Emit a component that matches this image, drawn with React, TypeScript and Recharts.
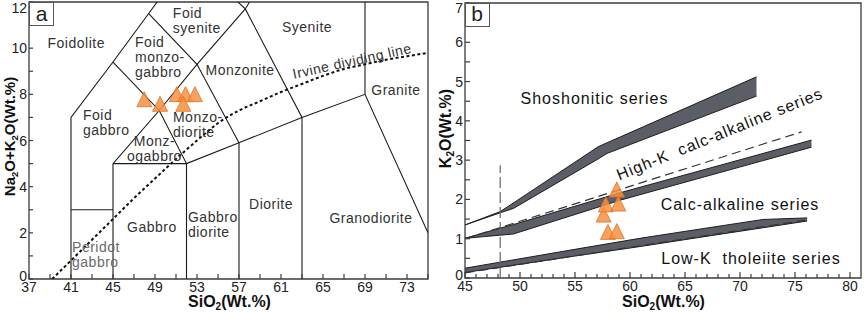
import React from "react";
import { ComposedChart, Line, Area, Scatter, XAxis, YAxis, ReferenceArea } from "recharts";

// ---------- panel a: TAS diagram ----------
const tasSio2Ticks = [37, 39, 41, 43, 45, 47, 49, 51, 53, 55, 57, 59, 61, 63, 65, 67, 69, 71, 73, 75];
const tasAlkaliTicks = [0, 1, 2, 3, 4, 5, 6, 7, 8, 9, 10, 11, 12];

// field boundaries (SiO2, Na2O+K2O)
const foidoliteEdge = [[41, 0], [41, 7], [45, 9.4], [48.4, 11.5], [49.2, 12]];
const peridotGabbroTop = [[41, 3], [45, 3]];
const gabbroLeftEdge = [[45, 0], [45, 5], [49.4, 7.3], [53, 9.3], [57.6, 11.7], [58, 12]];
const foidGabbroEdge = [[45, 9.4], [49.4, 7.3], [52, 5], [52, 0]];
const subalkalineTop = [[45, 5], [52, 5], [57, 5.9], [63, 7], [69, 8], [75, 2]];
const monzoditeEdge = [[48.4, 11.5], [53, 9.3], [57, 5.9], [57, 0]];
const monzoniteEdge = [[56.9, 12], [57.6, 11.7], [63, 7], [63, 0]];
const graniteEdge = [[69, 12], [69, 8]];
const tasBoundaries = [
  foidoliteEdge, peridotGabbroTop, gabbroLeftEdge, foidGabbroEdge,
  subalkalineTop, monzoditeEdge, monzoniteEdge, graniteEdge,
];

const irvineSio2 = [39.2, 41, 43, 45, 47, 49, 51, 53, 55, 57, 59, 61, 63, 65, 67, 69, 71, 73, 75];
const irvineAlkali = [0, 0.8, 1.7, 2.6, 3.5, 4.35, 5.2, 6.0, 6.75, 7.3, 7.7, 8.1, 8.45, 8.8, 9.1, 9.3, 9.5, 9.65, 9.8];

const tasSampleSio2 = [47.98, 49.48, 51.07, 51.9, 51.7, 52.8];
const tasSampleAlkali = [7.68, 7.48, 7.9, 7.9, 7.48, 7.9];

const tasFieldNames = [
  { lines: ["Foidolite"], x: 41.5, y: 10.23, anchor: "middle" },
  { lines: ["Foid", "monzo-", "gabbro"], x: 47.1, y: 9.62, anchor: "start" },
  { lines: ["Foid", "syenite"], x: 50.7, y: 11.2, anchor: "start" },
  { lines: ["Foid", "gabbro"], x: 42.14, y: 6.76, anchor: "start" },
  { lines: ["Monzonite"], x: 57.1, y: 9.06, anchor: "middle" },
  { lines: ["Monzo-", "diorite"], x: 50.71, y: 6.69, anchor: "start" },
  { lines: ["Monz-", "ogabbro"], x: 48.95, y: 5.65, anchor: "middle" },
  { lines: ["Syenite"], x: 63.48, y: 10.92, anchor: "middle" },
  { lines: ["Granite"], x: 71.95, y: 8.19, anchor: "middle" },
  { lines: ["Gabbro"], x: 48.71, y: 2.25, anchor: "middle" },
  { lines: ["Gabbro", "diorite"], x: 52.14, y: 2.36, anchor: "start" },
  { lines: ["Diorite"], x: 60.05, y: 3.25, anchor: "middle" },
  { lines: ["Granodiorite"], x: 69.57, y: 2.64, anchor: "middle" },
  { lines: ["Peridot", "gabbro"], x: 41.1, y: 1.04, anchor: "start", color: "#6a6a6a" },
  { lines: ["Irvine dividing line"], x: 67.76, y: 9.45, anchor: "middle", angle: -12.5 },
];

// ---------- panel b: K2O vs SiO2 ----------
const kSio2Ticks = [45, 46, 47, 48, 49, 50, 51, 52, 53, 54, 55, 56, 57, 58, 59, 60, 61, 62, 63, 64, 65, 66, 67, 68, 69, 70, 71, 72, 73, 74, 75, 76, 77, 78, 79, 80];
const k2oTicks = [0, 0.5, 1, 1.5, 2, 2.5, 3, 3.5, 4, 4.5, 5, 5.5, 6, 6.5, 7];

// bands: [SiO2, lower K2O, upper K2O]
const shoshoniticBand = [[45, 1.35, 1.35], [48.2, 1.66, 1.69], [49.4, 1.77, 1.91], [57.1, 3.03, 3.34], [57.9, 3.17, 3.44], [71.5, 4.63, 5.12]];
const highKBand = [[45, 1.01, 1.01], [48.2, 1.09, 1.27], [49.4, 1.12, 1.36], [59.1, 1.98, 2.17], [76.5, 3.33, 3.51]];
const lowKBand = [[45, 0.14, 0.25], [50, 0.35, 0.49], [55, 0.56, 0.73], [60.9, 0.8, 1.01], [66, 1.02, 1.23], [72.1, 1.28, 1.49], [76.1, 1.45, 1.53]];

const highKDashed = [[45, 1.0], [75.6, 3.72]];
const lowKDashed = [[45, 0.13], [75.9, 1.47]];
const basaltCutoff = [[48.2, 0], [48.2, 2.87]];

const kSampleSio2 = [57.6, 57.8, 58.8, 58.94, 58.0, 58.8];
const kSampleK2o = [1.55, 1.81, 2.19, 1.83, 1.11, 1.13];

const seriesNames = [
  { lines: ["Shoshonitic series"], x: 56.77, y: 4.58, anchor: "middle" },
  { lines: ["High-K  calc-alkaline series"], x: 68.14, y: 3.68, anchor: "middle", angle: -22 },
  { lines: ["Calc-alkaline series"], x: 70, y: 1.88, anchor: "middle" },
  { lines: ["Low-K  tholeiite series"], x: 71, y: 0.51, anchor: "middle" },
];

const FONT = "'Liberation Sans', Arial, Helvetica, sans-serif";
const AXIS = "#3c3c3c";
const ORANGE = "#f7913f";

const toXY = (pts: number[][]) => pts.map(([x, y]) => ({ x, y }));
const toBand = (rows: number[][]) => rows.map(([x, lo, hi]) => ({ x, y: [lo, hi] }));
const zipXY = (xs: number[], ys: number[]) => xs.map((x, i) => ({ x, y: ys[i] }));

function isMultiple(v: number, origin: number, step: number) {
  const q = (v - origin) / step;
  return Math.abs(q - Math.round(q)) < 1e-6;
}

function bottomTick(origin: number, step: number, majorLen: number, minorLen: number) {
  return (p: any) => {
    const v = p.payload.value;
    const major = isMultiple(v, origin, step);
    return (
      <g>
        <line x1={p.x} x2={p.x} y1={p.y} y2={p.y - (major ? majorLen : minorLen)} stroke={AXIS} strokeWidth={1.2} />
        {major && (
          <text x={p.x} y={p.y + 13} textAnchor="middle" fontSize={14} fill="#222" fontFamily={FONT}>
            {v}
          </text>
        )}
      </g>
    );
  };
}

function leftTick(step: number, len: number) {
  return (p: any) => {
    const v = p.payload.value;
    const major = isMultiple(v, 0, step);
    // keep the end labels inside the picture, as the original does
    const ly = p.y > 270 ? p.y - 3 : Math.max(p.y, 8);
    return (
      <g>
        <line x1={p.x} x2={p.x + len} y1={p.y} y2={p.y} stroke={AXIS} strokeWidth={1.2} />
        {major && (
          <text x={p.x - 2} y={ly + 5} textAnchor="end" fontSize={14} fill="#222" fontFamily={FONT}>
            {v}
          </text>
        )}
      </g>
    );
  };
}

function nameShape(size: number, color: string, spacing: number) {
  return (p: any) => {
    const d = p.payload;
    const lh = 15;
    const top = p.cy - ((d.lines.length - 1) * lh) / 2;
    return (
      <text
        x={p.cx}
        y={top}
        textAnchor={d.anchor}
        dominantBaseline="central"
        fontSize={size}
        letterSpacing={spacing}
        fill={d.color || color}
        fontFamily={FONT}
        style={{ whiteSpace: "pre" }}
        transform={d.angle ? `rotate(${d.angle} ${p.cx} ${p.cy})` : undefined}
      >
        {d.lines.map((l: string, i: number) => (
          <tspan key={i} x={p.cx} y={top + i * lh}>
            {l}
          </tspan>
        ))}
      </text>
    );
  };
}

const triangle = (p: any) => (
  <polygon
    points={`${p.cx},${p.cy - 10} ${p.cx - 7.5},${p.cy + 5} ${p.cx + 7.5},${p.cy + 5}`}
    fill={ORANGE}
    fillOpacity={0.85}
    stroke="#e0742a"
    strokeWidth={0.8}
  />
);

function TasPanel() {
  return (
    <ComposedChart width={432} height={312} margin={{ top: 2, right: 4, bottom: 0, left: 0 }}>
      <XAxis type="number" dataKey="x" domain={[37, 75]} allowDataOverflow ticks={tasSio2Ticks} interval={0}
        tickLine={false} axisLine={false} tickSize={0} tickMargin={0} height={33} tick={bottomTick(37, 4, 5, 5)} />
      <YAxis type="number" dataKey="y" domain={[0, 12]} allowDataOverflow ticks={tasAlkaliTicks} interval={0}
        tickLine={false} axisLine={false} tickSize={0} tickMargin={0} width={29} tick={leftTick(2, 4)} />
      {tasBoundaries.map((seg, i) => (
        <Line key={i} data={toXY(seg)} dataKey="y" type="linear" stroke="#1a1a1a" strokeWidth={1.1}
          dot={false} activeDot={false} isAnimationActive={false} />
      ))}
      <Line data={zipXY(irvineSio2, irvineAlkali)} dataKey="y" type="monotone" stroke="#111" strokeWidth={2}
        strokeDasharray="3 2.5" dot={false} activeDot={false} isAnimationActive={false} />
      <Scatter data={tasFieldNames} dataKey="y" shape={nameShape(14, "#333", 0.5)} isAnimationActive={false} />
      <Scatter data={zipXY(tasSampleSio2, tasSampleAlkali)} dataKey="y" shape={triangle} isAnimationActive={false} />
      <ReferenceArea x1={37} x2={75} y1={0} y2={12} fill="none" stroke={AXIS} strokeWidth={1.3} ifOverflow="visible" />
    </ComposedChart>
  );
}

function PotassiumPanel() {
  const band = { type: "linear" as const, fill: "#5c5e67", fillOpacity: 1, stroke: "#1e1e1e", strokeWidth: 1, isAnimationActive: false, dot: false, activeDot: false };
  return (
    <ComposedChart width={433} height={312} margin={{ top: 3, right: 4, bottom: 0, left: 0 }}>
      <XAxis type="number" dataKey="x" domain={[45, 81]} allowDataOverflow ticks={kSio2Ticks} interval={0}
        tickLine={false} axisLine={false} tickSize={0} tickMargin={0} height={34} tick={bottomTick(45, 5, 6, 4)} />
      <YAxis type="number" dataKey="y" domain={[0, 7]} allowDataOverflow ticks={k2oTicks} interval={0}
        tickLine={false} axisLine={false} tickSize={0} tickMargin={0} width={33} tick={leftTick(1, 5)} />
      <Area data={toBand(shoshoniticBand)} dataKey="y" {...band} />
      <Area data={toBand(highKBand)} dataKey="y" {...band} />
      <Area data={toBand(lowKBand)} dataKey="y" {...band} />
      <Line data={toXY(highKDashed)} dataKey="y" type="linear" stroke="#333" strokeWidth={1.2} strokeDasharray="9 5"
        dot={false} activeDot={false} isAnimationActive={false} />
      <Line data={toXY(lowKDashed)} dataKey="y" type="linear" stroke="#333" strokeWidth={1.2} strokeDasharray="9 5"
        dot={false} activeDot={false} isAnimationActive={false} />
      <Line data={toXY(basaltCutoff)} dataKey="y" type="linear" stroke="#666" strokeWidth={1.2} strokeDasharray="11 4"
        dot={false} activeDot={false} isAnimationActive={false} />
      <Scatter data={seriesNames} dataKey="y" shape={nameShape(16, "#111", 1)} isAnimationActive={false} />
      <Scatter data={zipXY(kSampleSio2, kSampleK2o)} dataKey="y" shape={triangle} isAnimationActive={false} />
      <ReferenceArea x1={45} x2={81} y1={0} y2={7} fill="none" stroke={AXIS} strokeWidth={1.3} ifOverflow="visible" />
    </ComposedChart>
  );
}

function Titles() {
  const bold = { fontFamily: FONT, fontWeight: 700, fill: "#111" };
  return (
    <svg width={865} height={312} style={{ position: "absolute", left: 0, top: 0, pointerEvents: "none" }}>
      <rect x={29.5} y={2.5} width={24} height={23} fill="#fff" stroke="#555" strokeWidth={1} />
      <text x={41.5} y={21} textAnchor="middle" fontSize={21} fontFamily={FONT} fill="#222">a</text>
      <rect x={465.5} y={3.5} width={24} height={23} fill="#fff" stroke="#555" strokeWidth={1} />
      <text x={477} y={21} textAnchor="middle" fontSize={21} fontFamily={FONT} fill="#222">b</text>

      <text x={229.5} y={307} textAnchor="middle" fontSize={16} {...bold}>
        SiO<tspan fontSize={10} dy={3}>2</tspan><tspan dy={-3}>(Wt.%)</tspan>
      </text>
      <text x={663.5} y={307} textAnchor="middle" fontSize={16} {...bold}>
        SiO<tspan fontSize={10} dy={3}>2</tspan><tspan dy={-3}>(Wt.%)</tspan>
      </text>
      <text transform="translate(14.5 136.5) rotate(-90)" textAnchor="middle" fontSize={15} {...bold}>
        Na<tspan fontSize={9.5} dy={3}>2</tspan><tspan dy={-3}>O+K</tspan><tspan fontSize={9.5} dy={3}>2</tspan><tspan dy={-3}>O(Wt.%)</tspan>
      </text>
      <text transform="translate(451 128.5) rotate(-90)" textAnchor="middle" fontSize={16} {...bold}>
        K<tspan fontSize={10} dy={3}>2</tspan><tspan dy={-3}>O(Wt.%)</tspan>
      </text>
    </svg>
  );
}

export default function App() {
  return (
    <div style={{ position: "absolute", left: 0, top: 0, width: 865, height: 312, background: "#fff", fontFamily: FONT }}>
      <div style={{ position: "absolute", left: 0, top: 0 }}>
        <TasPanel />
      </div>
      <div style={{ position: "absolute", left: 432, top: 0 }}>
        <PotassiumPanel />
      </div>
      <Titles />
    </div>
  );
}
